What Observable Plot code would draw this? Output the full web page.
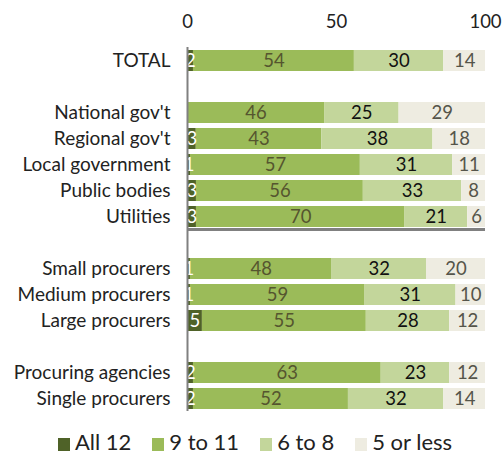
<!DOCTYPE html>
<html><head><meta charset="utf-8">
<script src="https://cdn.jsdelivr.net/npm/d3@7"></script>
<script src="https://cdn.jsdelivr.net/npm/@observablehq/plot@0.6"></script>
<style>
body{margin:0;background:#fff;font-family:Lato,"Open Sans",sans-serif;}
#legend{display:flex;justify-content:center;align-items:center;gap:21px;font-size:22px;color:#222;margin-top:8px;padding-left:8px}
#legend span.sw{display:inline-block;width:12px;height:13px;margin-right:5px;vertical-align:-1px}
</style></head><body>
<div id="chart"></div>
<div id="legend"></div>
<script>
const categories = ["TOTAL"," ","National gov't","Regional gov't","Local government","Public bodies","Utilities","  ","Small procurers","Medium procurers","Large procurers","   ","Procuring agencies","Single procurers"];
const series = ["All 12","9 to 11","6 to 8","5 or less"];
const all12   = [2,null,0,3,1,3,3,null,1,1,5,null,2,2];
const nineTo11= [54,null,46,43,57,56,70,null,48,59,55,null,63,52];
const sixTo8  = [30,null,25,38,31,33,21,null,32,31,28,null,23,32];
const fiveLess= [14,null,29,18,11,8,6,null,20,10,12,null,12,14];
const colors = ["#4f6228","#9bbb59","#c3d69b","#eeece1"];
const textColors = ["#ffffff","#55552f","#111111","#55554a"];
const xTicks = [0,50,100];

const rows = [];
[all12,nineTo11,sixTo8,fiveLess].forEach((arr,si)=>{
  arr.forEach((v,ci)=>{ if(v!==null) rows.push({cat:categories[ci],series:series[si],value:v,si}); });
});

const chart = Plot.plot({
  width:502, height:420,
  marginLeft:187, marginRight:17, marginTop:47, marginBottom:9,
  style:{fontFamily:"Lato, 'Open Sans', sans-serif", fontSize:"17px", color:"#222"},
  x:{domain:[0,1], axis:null, label:null},
  y:{domain:categories, paddingInner:0.2, paddingOuter:0.1, axis:null, label:null},
  color:{domain:series, range:colors},
  marks:[
    Plot.barX(rows, Plot.stackX({x:"value", y:"cat", fill:"series", order:series, offset:"normalize"})),
    Plot.text(rows.filter(d=>d.value>0), Plot.stackX({x:"value", y:"cat", z:"series", order:series, offset:"normalize", text:d=>String(d.value), fill:d=>textColors[d.si], fontSize:18.5})),
    Plot.axisY({anchor:"left", tickSize:0, tickPadding:17, fontSize:19, label:null, tickFormat:d=>d.trim(), fill:"#222"}),
    Plot.axisX({anchor:"top", ticks:xTicks.map(t=>t/100), tickSize:0, tickPadding:20, fontSize:18.5, label:null, tickFormat:d=>String(Math.round(d*100)), fill:"#222"}),
    Plot.ruleY([0], {y:null, frameAnchor:"top", stroke:"#808080", strokeWidth:3}),
    Plot.ruleX([0], {stroke:"#808080", strokeWidth:2})
  ]
});
document.getElementById("chart").appendChild(chart);

const lg = document.getElementById("legend");
series.forEach((s,i)=>{
  const d = document.createElement("div");
  d.innerHTML = `<span class="sw" style="background:${colors[i]}"></span>${s}`;
  lg.appendChild(d);
});
</script>
</body></html>
